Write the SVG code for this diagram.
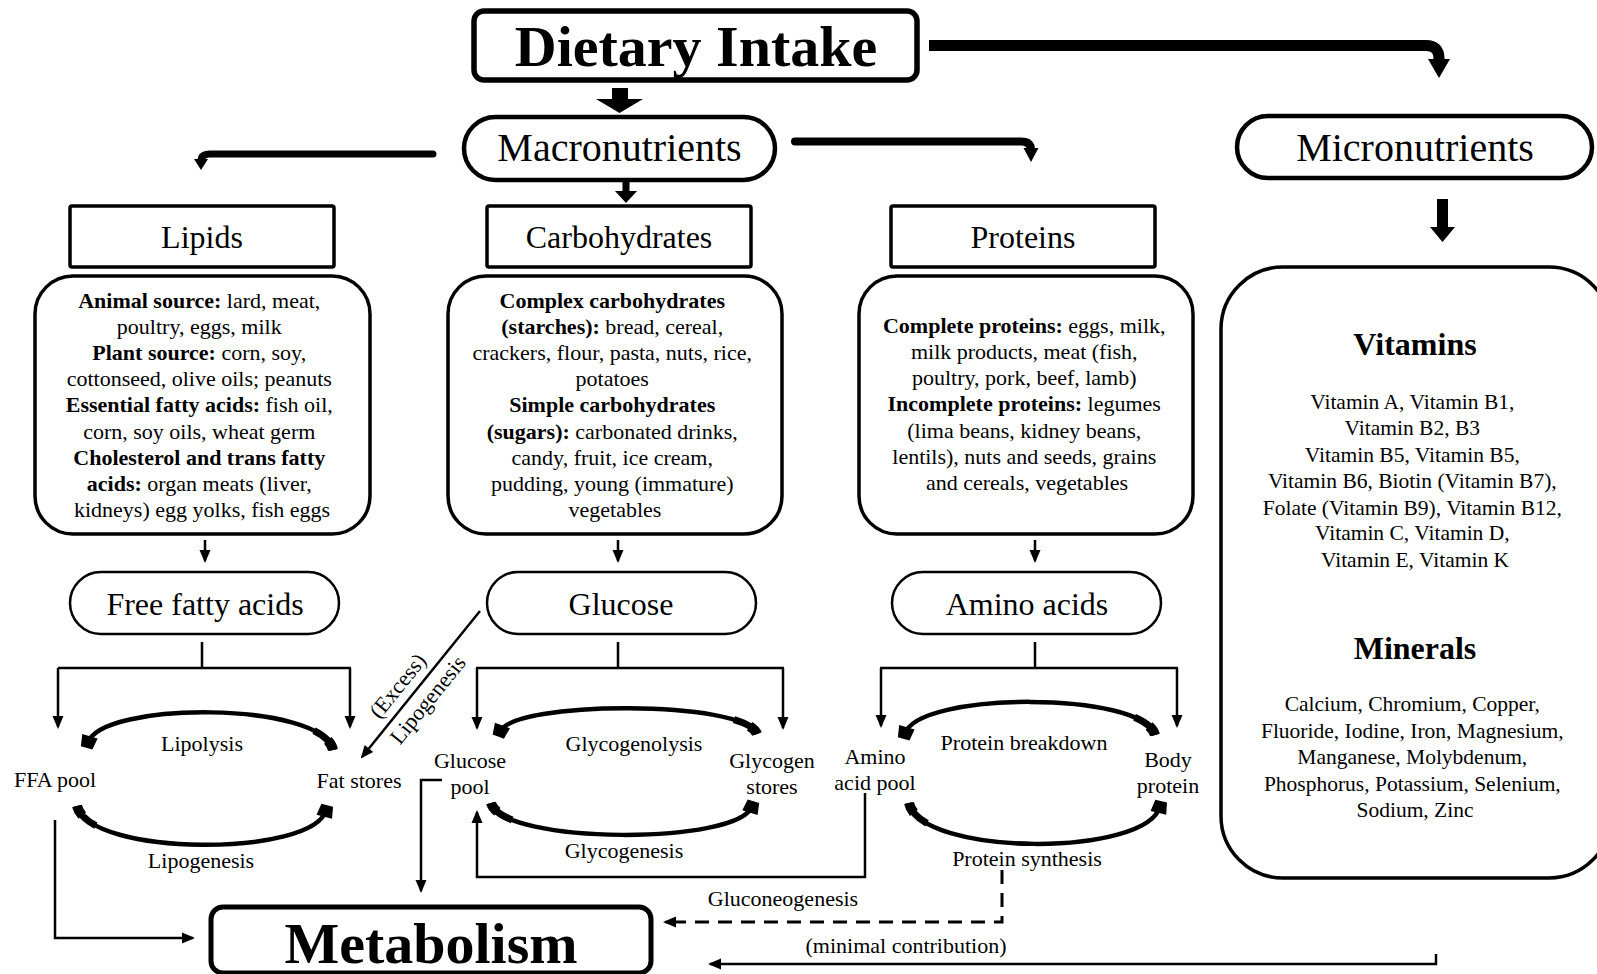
<svg xmlns="http://www.w3.org/2000/svg" width="1597" height="974" viewBox="0 0 1597 974">
<defs>
<style>
text{font-family:"Liberation Serif","Times New Roman",serif;fill:#000;text-anchor:middle}
.s22{font-size:22px}
.s21{font-size:21.5px}
.h32{font-size:32px}
.h40{font-size:40px}
.bb{font-weight:bold}
.box{fill:#fff;stroke:#000;stroke-width:3.5}
.cbox{fill:#fff;stroke:#000;stroke-width:3.5}
.pill{fill:#fff;stroke:#000;stroke-width:2.5}
.ln{fill:none;stroke:#000;stroke-width:2.5}
.dash{fill:none;stroke:#000;stroke-width:3;stroke-dasharray:14 9}
.arc{fill:none;stroke:#000;stroke-width:4.5}
.tail1{fill:none;stroke:#000;stroke-width:10;stroke-dasharray:11 3000}
.tail2{fill:none;stroke:#000;stroke-width:7;stroke-dasharray:28 3000}
.thick{fill:none;stroke:#000}
.head{fill:#000;stroke:none}
</style>
<marker id="ah" viewBox="-14 -7 18 14" markerWidth="18" markerHeight="14" refX="0" refY="0" markerUnits="userSpaceOnUse" orient="auto">
<path d="M2,0 L-11,-5.5 L-11,5.5 Z" fill="#000"/>
</marker>
<marker id="blk" viewBox="-12 -12 24 24" markerWidth="24" markerHeight="24" refX="0" refY="0" markerUnits="userSpaceOnUse" orient="auto">
<path d="M-7,-8 L5,-6 L5,6 L-7,8 Z" fill="#000"/>
</marker>
</defs>
<rect width="1597" height="974" fill="#fff"/>

<g id="connectors">
<path class="thick" stroke-width="11" d="M929,45.5 H1426 Q1439,45.5 1439,58.5 V62"/>
<polygon class="head" points="1428,59 1450,59 1439,78"/>
<path class="thick" stroke-width="7" stroke-linecap="round" d="M433,154 H210 Q201,154 201,161"/>
<polygon class="head" points="194,159 208,159 201,170"/>
<path class="thick" stroke-width="8" stroke-linecap="round" d="M795,141.5 H1021 Q1031,141.5 1031,150"/>
<polygon class="head" points="1023.5,148 1038.5,148 1031,162"/>
<polygon class="head" points="612,88 628,88 628,99 643,99 619.5,113 596,99 612,99"/>
<polygon class="head" points="622.5,181 629.5,181 629.5,191 637,191 626,203 615,191 622.5,191"/>
<polygon class="head" points="1437,199 1448,199 1448,227 1455,227 1442.5,242 1430,227 1437,227"/>

<path class="ln" marker-end="url(#ah)" d="M205,540 V561"/>
<path class="ln" marker-end="url(#ah)" d="M618,540 V561"/>
<path class="ln" marker-end="url(#ah)" d="M1035,540 V561"/>

<path class="ln" d="M202,642 V668 M58,668 H351"/>
<path class="ln" marker-end="url(#ah)" d="M58,668 V727"/>
<path class="ln" marker-end="url(#ah)" d="M350,668 V727"/>
<path class="ln" d="M618,642 V668 M476,668 H784"/>
<path class="ln" marker-end="url(#ah)" d="M477,668 V728"/>
<path class="ln" marker-end="url(#ah)" d="M783,668 V728"/>
<path class="ln" d="M1035,642 V668 M880,668 H1178"/>
<path class="ln" marker-end="url(#ah)" d="M881,668 V726"/>
<path class="ln" marker-end="url(#ah)" d="M1177,668 V726"/>

<path class="ln" marker-end="url(#ah)" d="M480,611 L362,757"/>

<path class="arc" marker-end="url(#blk)" d="M333,750 C322,701 100,701 88,743"/>
<path class="tail1" d="M333,750 C322,701 100,701 88,743"/>
<path class="tail2" d="M333,750 C322,701 100,701 88,743"/>
<path class="arc" marker-end="url(#blk)" d="M77,806 C90,857 314,857 326,810"/>
<path class="tail1" d="M77,806 C90,857 314,857 326,810"/>
<path class="tail2" d="M77,806 C90,857 314,857 326,810"/>

<path class="arc" marker-end="url(#blk)" d="M757,734 C745,700 512,700 500,732"/>
<path class="tail1" d="M757,734 C745,700 512,700 500,732"/>
<path class="tail2" d="M757,734 C745,700 512,700 500,732"/>
<path class="arc" marker-end="url(#blk)" d="M491,803 C503,845 740,845 752,806"/>
<path class="tail1" d="M491,803 C503,845 740,845 752,806"/>
<path class="tail2" d="M491,803 C503,845 740,845 752,806"/>

<path class="arc" marker-end="url(#blk)" d="M1155,735 C1143,691 917,691 905,734"/>
<path class="tail1" d="M1155,735 C1143,691 917,691 905,734"/>
<path class="tail2" d="M1155,735 C1143,691 917,691 905,734"/>
<path class="arc" marker-end="url(#blk)" d="M909,803 C921,857 1148,857 1160,806"/>
<path class="tail1" d="M909,803 C921,857 1148,857 1160,806"/>
<path class="tail2" d="M909,803 C921,857 1148,857 1160,806"/>

<path class="ln" stroke-width="3" marker-end="url(#ah)" d="M55,820 V938 H193"/>
<path class="ln" marker-end="url(#ah)" d="M442,780 H421 V891"/>
<path class="ln" marker-end="url(#ah)" d="M865,793 V877 H477 V812"/>
<path class="dash" d="M1002,870 V922 H675"/>
<path class="ln" marker-end="url(#ah)" d="M675,922 H665"/>
<path class="ln" marker-end="url(#ah)" d="M1436,954 V964 H710"/>
</g>

<g id="dietary-intake">
<rect x="474" y="11" width="443" height="69" rx="10" fill="#fff" stroke="#000" stroke-width="5.5"/>
<text x="696" y="66" class="bb" font-size="58">Dietary Intake</text>
</g>

<g id="macronutrients">
<rect x="464" y="117" width="311" height="63" rx="31.5" fill="#fff" stroke="#000" stroke-width="4.5"/>
<text x="619.5" y="161" class="h40">Macronutrients</text>
</g>

<g id="micronutrients">
<rect x="1237" y="116" width="355" height="62" rx="31" fill="#fff" stroke="#000" stroke-width="4.5"/>
<text x="1415" y="161" class="h40">Micronutrients</text>
</g>

<g id="lipids">
<rect class="box" x="70" y="206" width="264" height="61" rx="2"/>
<text x="202" y="248" class="h32">Lipids</text>
</g>
<g id="carbohydrates">
<rect class="box" x="487" y="206" width="264" height="61" rx="2"/>
<text x="619" y="248" class="h32">Carbohydrates</text>
</g>
<g id="proteins">
<rect class="box" x="891" y="206" width="264" height="61" rx="2"/>
<text x="1023" y="248" class="h32">Proteins</text>
</g>

<g id="lipids-sources">
<rect class="cbox" x="35" y="276" width="335" height="258" rx="38"/>
<text class="s22" x="202">
<tspan x="202" y="308"><tspan class="bb">Animal source:</tspan> lard, meat,</tspan>
<tspan x="202" y="334">poultry, eggs, milk</tspan>
<tspan x="202" y="360"><tspan class="bb">Plant source:</tspan> corn, soy,</tspan>
<tspan x="202" y="386">cottonseed, olive oils; peanuts</tspan>
<tspan x="202" y="412"><tspan class="bb">Essential fatty acids:</tspan> fish oil,</tspan>
<tspan x="202" y="439">corn, soy oils, wheat germ</tspan>
<tspan x="202" y="465" class="bb">Cholesterol and trans fatty</tspan>
<tspan x="202" y="491"><tspan class="bb">acids:</tspan> organ meats (liver,</tspan>
<tspan x="202" y="517">kidneys) egg yolks, fish eggs</tspan>
</text>
</g>

<g id="carbohydrates-sources">
<rect class="cbox" x="448" y="276" width="334" height="258" rx="38"/>
<text class="s22" x="615">
<tspan x="615" y="308" class="bb">Complex carbohydrates</tspan>
<tspan x="615" y="334"><tspan class="bb">(starches):</tspan> bread, cereal,</tspan>
<tspan x="615" y="360">crackers, flour, pasta, nuts, rice,</tspan>
<tspan x="615" y="386">potatoes</tspan>
<tspan x="615" y="412" class="bb">Simple carbohydrates</tspan>
<tspan x="615" y="439"><tspan class="bb">(sugars):</tspan> carbonated drinks,</tspan>
<tspan x="615" y="465">candy, fruit, ice cream,</tspan>
<tspan x="615" y="491">pudding, young (immature)</tspan>
<tspan x="615" y="517">vegetables</tspan>
</text>
</g>

<g id="proteins-sources">
<rect class="cbox" x="859" y="276" width="334" height="258" rx="38"/>
<text class="s22" x="1027">
<tspan x="1027" y="333"><tspan class="bb">Complete proteins:</tspan> eggs, milk,</tspan>
<tspan x="1027" y="359">milk products, meat (fish,</tspan>
<tspan x="1027" y="385">poultry, pork, beef, lamb)</tspan>
<tspan x="1027" y="411"><tspan class="bb">Incomplete proteins:</tspan> legumes</tspan>
<tspan x="1027" y="438">(lima beans, kidney beans,</tspan>
<tspan x="1027" y="464">lentils), nuts and seeds, grains</tspan>
<tspan x="1027" y="490">and cereals, vegetables</tspan>
</text>
</g>

<g id="micronutrients-list">
<rect class="cbox" x="1221" y="267" width="390" height="611" rx="62"/>
<text x="1415" y="355" class="h32 bb">Vitamins</text>
<text class="s21" x="1415">
<tspan x="1415" y="409">Vitamin A, Vitamin B1,</tspan>
<tspan x="1415" y="435">Vitamin B2, B3</tspan>
<tspan x="1415" y="462">Vitamin B5, Vitamin B5,</tspan>
<tspan x="1415" y="488">Vitamin B6, Biotin (Vitamin B7),</tspan>
<tspan x="1415" y="515">Folate (Vitamin B9), Vitamin B12,</tspan>
<tspan x="1415" y="540">Vitamin C, Vitamin D,</tspan>
<tspan x="1415" y="567">Vitamin E, Vitamin K</tspan>
</text>
<text x="1415" y="659" class="h32 bb">Minerals</text>
<text class="s21" x="1415">
<tspan x="1415" y="711">Calcium, Chromium, Copper,</tspan>
<tspan x="1415" y="738">Fluoride, Iodine, Iron, Magnesium,</tspan>
<tspan x="1415" y="764">Manganese, Molybdenum,</tspan>
<tspan x="1415" y="791">Phosphorus, Potassium, Selenium,</tspan>
<tspan x="1415" y="817">Sodium, Zinc</tspan>
</text>
</g>

<g id="free-fatty-acids">
<rect class="pill" x="70" y="572" width="269" height="62" rx="31"/>
<text x="205" y="615" class="h32">Free fatty acids</text>
</g>
<g id="glucose">
<rect class="pill" x="487" y="572" width="269" height="62" rx="31"/>
<text x="621" y="615" class="h32">Glucose</text>
</g>
<g id="amino-acids">
<rect class="pill" x="892" y="572" width="269" height="62" rx="31"/>
<text x="1027" y="615" class="h32">Amino acids</text>
</g>

<g id="lipid-cycle-labels">
<text class="s22" x="202" y="751">Lipolysis</text>
<text class="s22" x="201" y="868">Lipogenesis</text>
<text class="s22" x="55" y="787">FFA pool</text>
<text class="s22" x="359" y="788">Fat stores</text>
<text class="s22" transform="translate(398,686) rotate(-51)" y="7">(Excess)</text>
<text class="s22" transform="translate(428,700) rotate(-51)" y="7">Lipogenesis</text>
</g>

<g id="glucose-cycle-labels">
<text class="s22" x="470" y="768">Glucose</text>
<text class="s22" x="470" y="794">pool</text>
<text class="s22" x="634" y="751">Glycogenolysis</text>
<text class="s22" x="772" y="768">Glycogen</text>
<text class="s22" x="772" y="794">stores</text>
<text class="s22" x="624" y="858">Glycogenesis</text>
</g>

<g id="protein-cycle-labels">
<text class="s22" x="875" y="764">Amino</text>
<text class="s22" x="875" y="790">acid pool</text>
<text class="s22" x="1024" y="750">Protein breakdown</text>
<text class="s22" x="1168" y="767">Body</text>
<text class="s22" x="1168" y="793">protein</text>
<text class="s22" x="1027" y="866">Protein synthesis</text>
</g>

<g id="bottom-labels">
<text class="s22" x="783" y="906">Gluconeogenesis</text>
<text class="s22" x="906" y="953">(minimal contribution)</text>
</g>

<g id="metabolism">
<rect x="211" y="907" width="440" height="66" rx="12" fill="#fff" stroke="#000" stroke-width="5"/>
<text x="431" y="963" class="bb" font-size="58">Metabolism</text>
</g>
</svg>
